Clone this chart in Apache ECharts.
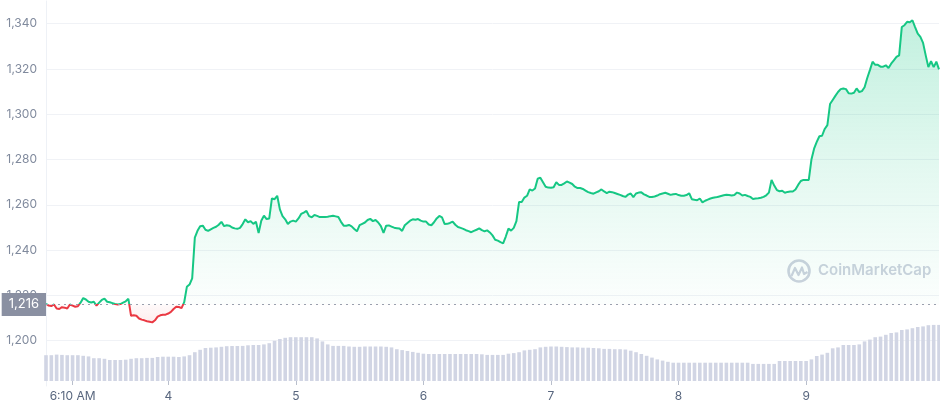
<!DOCTYPE html>
<html><head><meta charset="utf-8">
<script src="https://cdn.jsdelivr.net/npm/echarts@6/dist/echarts.min.js"></script>
<style>html,body{margin:0;padding:0;background:#fff}#c{width:940px;height:408px}</style>
</head><body><div id="c"></div>
<script>
// Half-hourly price (USD), 337 points
const prices = [
1216.3,1215.5,1215.3,1216,1214.2,1214,1214.8,1214.6,1214.2,1216,
1215.5,1215,1215.2,1216.8,1218.8,1218.2,1217.2,1216.9,1217.2,1215.5,
1216.8,1218,1218.6,1217.2,1217,1216.6,1216.2,1216,1216.2,1216.8,
1217.4,1218.5,1211,1211.2,1211,1209.8,1209.3,1209,1208.6,1208.4,
1208.1,1209,1210.6,1211.2,1211.5,1211.5,1212,1212.7,1214,1215,
1214.9,1214.4,1217,1223.8,1224.8,1227.5,1245.5,1248.5,1250.5,1250.8,
1249,1248.5,1249.2,1249.8,1250.3,1251.2,1252.5,1250.6,1251,1250.8,
1250,1249.6,1249.4,1249.8,1251.5,1253.6,1252.3,1252.8,1251.6,1252.5,
1247.5,1253,1255.2,1253.7,1254,1262.8,1262.5,1264,1258,1255,
1253.6,1251.5,1252.6,1253,1252.6,1254,1256,1256.6,1257.3,1255,
1254.5,1255.5,1255.1,1254.6,1254.6,1254.6,1254.7,1255,1255.2,1254.9,
1254.6,1252.5,1250.8,1250.8,1251.1,1250.5,1249.3,1248.3,1251,1251.6,
1252.2,1253.3,1253.8,1252.8,1253.3,1252.2,1250.6,1247.6,1250.8,1250.9,
1250.4,1249.9,1249.7,1249.5,1248.5,1251,1252,1253,1253.6,1253.4,
1253.7,1253,1252.6,1252.6,1251.3,1251,1252.3,1254,1255.1,1254.5,
1251.5,1251.6,1252,1252.6,1251.2,1250.2,1249.8,1249.4,1248.8,1248.4,
1247.9,1248.5,1249,1249.6,1248.8,1248.3,1248.7,1247.8,1246.5,1244.6,
1244.2,1243.5,1243,1246,1249.5,1248.6,1249.8,1252.8,1261.3,1261.2,
1263.2,1264,1266.8,1266.3,1267.2,1271.5,1272,1270,1268,1267.6,
1267.5,1267.8,1270,1268.8,1268.8,1269.5,1270.3,1269.8,1269.2,1268,
1267.4,1267.4,1267,1266.3,1265.6,1265.2,1264.9,1265.5,1266,1266.8,
1265.9,1265.2,1265.8,1265.6,1265.2,1264.8,1264.4,1263.9,1263.5,1264.5,
1265,1263.4,1265,1265.4,1265.5,1264.6,1264.1,1263.5,1263.5,1263.7,
1264.1,1264.7,1265,1265.3,1264.9,1264.4,1264.7,1264.8,1264.3,1264,
1264,1264.3,1265.1,1262.5,1262.2,1262,1262.8,1261.1,1261.8,1262.3,
1262.8,1263.1,1263.3,1263.6,1263.9,1264.2,1264.4,1264.3,1264.1,1264.3,
1265.4,1265,1264.1,1264.4,1263.9,1263.5,1262.6,1262.8,1262.9,1263.1,
1263.5,1264.2,1265.4,1271,1268.5,1266.5,1266,1266.2,1265.3,1265.7,
1265.9,1265.9,1266.8,1268.8,1270.5,1271,1271,1271,1280,1284.8,
1287.8,1290.3,1290.5,1293.5,1295.2,1304.5,1306.3,1308.1,1309.8,1311.1,
1311.4,1311.1,1309.3,1309.1,1309.5,1311.4,1309.8,1310.2,1311.9,1316,
1319.5,1323.2,1321.8,1321.8,1321,1321,1321.6,1320.4,1322.3,1323.8,
1325.3,1326,1338.5,1339.3,1340.8,1340.6,1341.5,1338.5,1335.6,1334.2,
1331.5,1326,1320.8,1323.4,1320.8,1323.2,1319.8
];
// Hourly volume bars (relative units), 169 bars
const volumes = [
43,43,44,43.5,43,43,43,42,41,38,
38,37,35,35,35,35.5,37,38,38,38.5,
38.5,40,40.5,40.5,40.5,40,41,43,48,52,
55,55.5,56,57,58,58.3,58.3,58.5,59.5,60,
60,61,63,67,70,72,73,73,73,73,
73,71,66,61,58.5,58.5,58.5,57.5,57,57,
57.5,57.5,57.5,57.5,57,56,53,51.5,50,48.5,
47,45.5,45,45,45,45,45,45,45,45,
45,45,44.5,43.5,43.5,43.5,43.5,45.5,46.5,48,
51,52,53,56,57,57.5,57.5,57,56.5,56,
56,55.5,55.5,55,54.5,53.5,53.5,53,53,52.5,
50.5,48,45,42,39,36,34,32,30.5,30.5,
30.5,30.5,30.5,30.5,30.5,30.5,30.5,30.5,30.5,30.5,
30.5,30.5,30.5,28.5,28.5,28.5,28.5,28.5,33.3,33.3,
33.3,33.3,33.3,33.3,36,41.7,44,47,54.5,56,
60,60,60,61,66,69,73,74,77,80,
81,85,86,88,90,91,93,93.5,93.5
];
// x tick labels, placed at hourly bar indices
const tickIndex = [5,23,47,71,95,119,143];
const tickLabels = ['6:10 AM','4','5','6','7','8','9'];
const yMin = 1180, yMax = 1350, yStep = 20;
const refPrice = 1216;
const priceCats = prices.map((_, i) => String(i));
const volCats = volumes.map((_, i) => String(i));

const fmt = v => String(v).replace(/\B(?=(\d{3})+(?!\d))/g, ',');
const chart = echarts.init(document.getElementById('c'), null, {renderer:'canvas'});
const wm = '#cdd2de';
chart.setOption({
  animation:false,
  grid:[
    {left:46, right:1, top:1, bottom:22},
    {left:46, right:1, top:321, bottom:27}
  ],
  xAxis:[
    {gridIndex:0, type:'category', data:priceCats, boundaryGap:false, show:false},
    {gridIndex:1, type:'category', data:volCats, boundaryGap:false,
     axisLine:{show:false},
     axisTick:{show:true, length:4, lineStyle:{color:'#b9bfcc'}, interval:(i)=>tickIndex.includes(i)},
     axisLabel:{interval:(i)=>tickIndex.includes(i), formatter:(v)=>tickLabels[tickIndex.indexOf(Number(v))],
       color:'#58667e', fontSize:12, fontFamily:'Inter', margin:9},
     splitLine:{show:false}}
  ],
  yAxis:[
    {gridIndex:0, type:'value', min:yMin, max:yMax, interval:yStep,
     axisLine:{show:true, lineStyle:{color:'#eef1f6'}},
     axisTick:{show:false},
     axisLabel:{showMinLabel:false, showMaxLabel:false, formatter:fmt, color:'#808a9d', fontSize:12, fontFamily:'Inter', margin:9},
     splitLine:{show:true, showMinLine:false, showMaxLine:false, lineStyle:{color:'#f0f2f6', width:1}}},
    {gridIndex:1, type:'value', min:0, max:100, show:false, splitLine:{show:false}}
  ],
  visualMap:{type:'piecewise', show:false, seriesIndex:1, dimension:1,
    pieces:[{gte:1000, lt:refPrice, color:'#ea3943'},{gte:refPrice, lte:1500, color:'#16c784'}]},
  series:[
    {type:'bar', xAxisIndex:1, yAxisIndex:1, data:volumes, barWidth:3.6,
     itemStyle:{color:'#d1d5e4'}, silent:true, z:1},
    {type:'line', xAxisIndex:0, yAxisIndex:0, data:prices, showSymbol:false, symbol:'none',
     lineStyle:{width:2}, z:3,
     areaStyle:{origin:refPrice, color:{type:'linear', x:0, y:0, x2:0, y2:340, global:true,
       colorStops:[
         {offset:0, color:'rgba(22,199,132,0.40)'},
         {offset:0.5, color:'rgba(22,199,132,0.17)'},
         {offset:0.893, color:'rgba(22,199,132,0.02)'},
         {offset:0.895, color:'rgba(234,57,67,0.04)'},
         {offset:1, color:'rgba(234,57,67,0.22)'}
       ]}},
     markLine:{silent:true, symbol:'none',
       lineStyle:{color:'#9aa0ae', type:[2,4], width:1},
       label:{position:'start', distance:0, formatter:()=>fmt(refPrice), color:'#fff',
         backgroundColor:'#8a90a2', padding:[5,7,5,7], fontSize:13, fontFamily:'Inter'},
       data:[{yAxis:refPrice}]}}
  ],
  graphic:[
    {type:'circle', shape:{cx:799, cy:271, r:10.5}, style:{fill:'none', stroke:wm, lineWidth:2.6}, z:2},
    {type:'polyline', shape:{points:[[791.5,276],[795,268],[798.5,275],[802,267.5],[804,274],[807.5,272]]},
     style:{stroke:wm, lineWidth:2.2, fill:'none', lineJoin:'round'}, z:2},
    {type:'text', x:818, y:263, style:{text:'CoinMarketCap', font:'600 15px Inter', fill:wm}, z:2}
  ]
});
</script></body></html>
